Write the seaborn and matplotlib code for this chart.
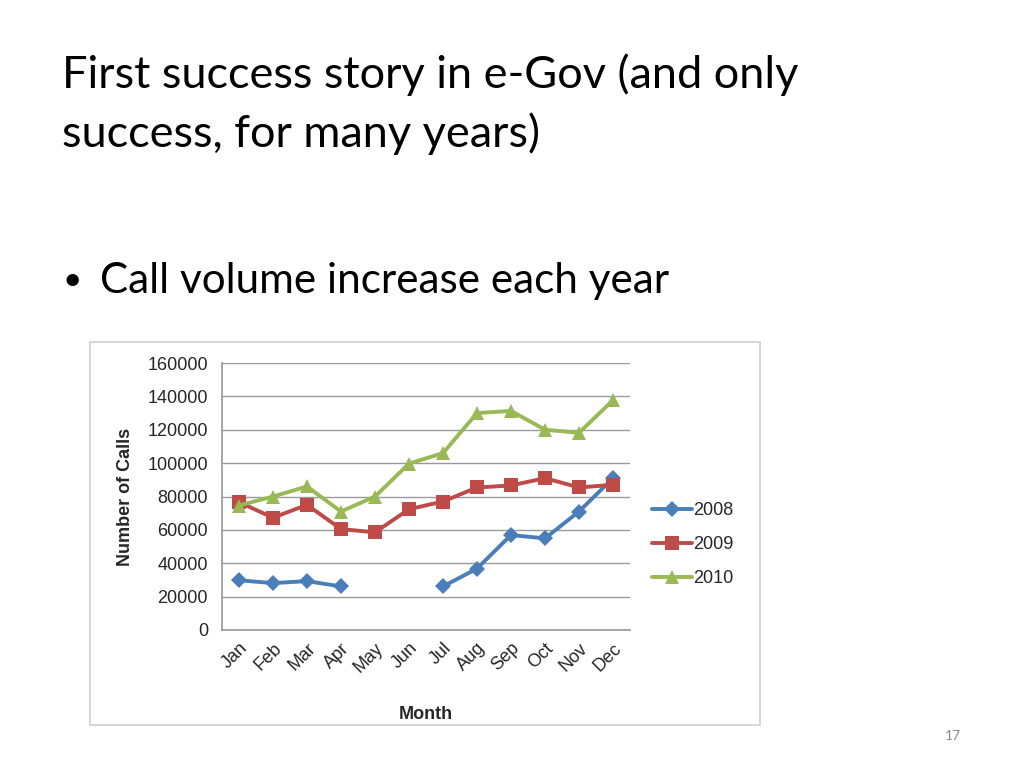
import numpy as np
import pandas as pd
import matplotlib
matplotlib.use("Agg")
import matplotlib.pyplot as plt
import seaborn as sns
from matplotlib.patches import Rectangle

# ---- data ----
months = ["Jan", "Feb", "Mar", "Apr", "May", "Jun",
          "Jul", "Aug", "Sep", "Oct", "Nov", "Dec"]
years = ["2008", "2009", "2010"]
calls_2008 = [29800, 28100, 29300, 26100, np.nan, np.nan,
              26100, 36800, 56900, 54900, 71000, 91000]
calls_2009 = [76600, 67300, 75000, 60500, 58500, 72400,
              77000, 85400, 86600, 91000, 85400, 87000]
calls_2010 = [74600, 80000, 86000, 71000, 80000, 99700,
              106000, 130000, 131300, 120000, 118200, 137700]
colors = ["#4A7EBB", "#BE4B48", "#98B954"]

# long table; "segment" breaks the 2008 line where months are missing
rows = []
for yr, vals in zip(years, [calls_2008, calls_2009, calls_2010]):
    seg = 0
    for i, v in enumerate(vals):
        if np.isnan(v):
            seg += 1
            continue
        rows.append({"month": i + 1, "calls": v, "year": yr, "segment": f"{yr}-{seg}"})
df = pd.DataFrame(rows)

sns.set_theme(style="white")
plt.rcParams["font.family"] = ["Liberation Sans", "DejaVu Sans"]

fig = plt.figure(figsize=(10.24, 7.68), dpi=100)
fig.patch.set_facecolor("white")

slide_font = ["Lato", "DejaVu Sans"]

# slide text
fig.text(62 / 1024, 1 - 88 / 768, "First success story in e-Gov (and only",
         fontsize=32.5, family=slide_font, color="black", va="baseline")
fig.text(62 / 1024, 1 - 147 / 768, "success, for many years)",
         fontsize=32.5, family=slide_font, color="black", va="baseline")
fig.text(62 / 1024, 1 - 290 / 768, "\u2022", fontsize=24,
         family=slide_font, color="black", va="baseline")
fig.text(100 / 1024, 1 - 293 / 768, "Call volume increase each year",
         fontsize=30.4, family=slide_font, color="black", va="baseline")
fig.text(953 / 1024, 1 - 740 / 768, "17", fontsize=10, color="#8a8a8a",
         family=slide_font, ha="center", va="baseline")

# chart frame (pasted picture border)
fig.patches.append(Rectangle((90 / 1024, 1 - 725 / 768), 670 / 1024, 383 / 768,
                             transform=fig.transFigure, fill=False,
                             edgecolor="#d0d0d0", linewidth=1.2))

ax = fig.add_axes([222 / 1024, 1 - 630 / 768, 408 / 1024, 267 / 768])

sns.lineplot(data=df, x="month", y="calls", hue="year", units="segment",
             estimator=None, style="year", markers=["D", "s", "^"],
             dashes=False, palette=colors, linewidth=2.8, markersize=10,
             markeredgewidth=0, ax=ax)

# Excel draws the diamonds a bit smaller than the squares
for line in ax.lines:
    if line.get_marker() == "D":
        line.set_markersize(8.5)

ax.set_xlim(0.5, 12.5)
ax.set_ylim(0, 160000)
ax.set_yticks(np.arange(0, 160001, 20000))
ax.set_xticks(range(1, 13))
ax.set_xticklabels(months, rotation=45, ha="right", rotation_mode="anchor",
                   fontsize=13)
ax.tick_params(axis="y", labelsize=13, length=0, pad=10)
ax.tick_params(axis="x", length=0, pad=7)
ax.yaxis.grid(True, color="#9a9a9a", linewidth=1)
ax.set_axisbelow(True)
for side in ["top", "right"]:
    ax.spines[side].set_visible(False)
ax.spines["left"].set_color("#9a9a9a")
ax.spines["bottom"].set_color("#9a9a9a")

ax.set_xlabel("Month", fontsize=13, fontweight="bold", labelpad=22)
ax.set_ylabel("Number of Calls", fontsize=13, fontweight="bold", labelpad=10)

handles, labels = ax.get_legend_handles_labels()
for h in handles:
    if h.get_marker() == "D":
        h.set_markersize(8.5)
ax.legend(handles, labels, loc="center left", bbox_to_anchor=(1.015, 0.32),
          frameon=False, fontsize=13, handlelength=2.2, handletextpad=0.05,
          labelspacing=0.95)

fig.savefig("out.png", dpi=100)
